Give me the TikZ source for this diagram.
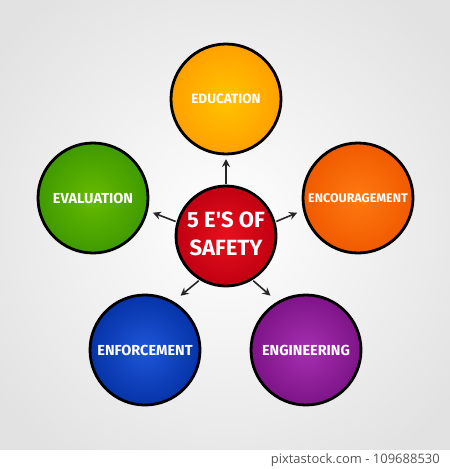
\documentclass[tikz,border=0pt]{standalone}
\usepackage{fontspec}
\setmainfont{Fira Sans}
\newfontfamily\footfont{Open Sans}
\usetikzlibrary{arrows.meta,shadings}
\definecolor{bgedge}{HTML}{E2E2E2}
\definecolor{edu1}{HTML}{FFC400}\definecolor{edu2}{HTML}{FFA000}
\definecolor{enc1}{HTML}{FF7A10}\definecolor{enc2}{HTML}{F05A00}
\definecolor{eva1}{HTML}{66BB00}\definecolor{eva2}{HTML}{3F9A00}
\definecolor{enf1}{HTML}{1E56D8}\definecolor{enf2}{HTML}{0633A8}
\definecolor{eng1}{HTML}{A52FB0}\definecolor{eng2}{HTML}{7E1488}
\definecolor{red1}{HTML}{E8101C}\definecolor{red2}{HTML}{C00012}
\definecolor{foot}{HTML}{555555}
\tikzset{
  bubble/.style={circle, draw=black, line width=2.8pt, minimum size=110pt, inner sep=0pt,
    text=white, font=\bfseries\fontsize{13.5}{15}\selectfont},
  hub/.style={circle, draw=black, line width=2.8pt, minimum size=100pt, inner sep=0pt,
    text=white, align=center, font=\bfseries\fontsize{22}{28}\selectfont},
  link/.style={-{Stealth[length=8pt,width=8pt]}, line width=1.6pt, draw=black!85, shorten <=1pt, shorten >=2pt}
}
\begin{document}
\begin{tikzpicture}[x=1pt,y=-1pt]
\useasboundingbox (0,0) rectangle (450,469);
\shade[inner color=white, outer color=bgedge] (-60,-60) rectangle (510,510);
\fill[white] (0,450) rectangle (450,469);
\node[hub, inner color=red1, outer color=red2] (c) at (226,236) {\raisebox{4pt}{5 E\textquotesingle S OF}\\\raisebox{4pt}{SAFETY}};
\node[bubble, inner color=edu1, outer color=edu2] (edu) at (226,99) {EDUCATION};
\node[bubble, inner color=enc1, outer color=enc2, font=\bfseries\fontsize{12.5}{14}\selectfont] (enc) at (358,198) {ENCOURAGEMENT};
\node[bubble, inner color=eva1, outer color=eva2, font=\bfseries\fontsize{14.5}{16}\selectfont] (eva) at (93,198) {EVALUATION};
\node[bubble, inner color=enf1, outer color=enf2, font=\bfseries\fontsize{14.5}{16}\selectfont] (enf) at (145,350) {ENFORCEMENT};
\node[bubble, inner color=eng1, outer color=eng2, font=\bfseries\fontsize{14.5}{16}\selectfont] (eng) at (306,350) {ENGINEERING};
\coordinate (te) at (226,157);
\coordinate (tr) at (299,212);
\coordinate (tl) at (151,212);
\coordinate (tbl) at (179,297);
\coordinate (tbr) at (272,297);
\draw[link] (c.90) -- (te);
\draw[link] (c.16) -- (tr);
\draw[link] (c.164) -- (tl);
\draw[link] (c.-121) -- (tbl);
\draw[link] (c.-59) -- (tbr);
\node[anchor=east, text=foot, font=\footfont\fontsize{13}{15}\selectfont, inner sep=0pt] (ft) at (440,460) {pixtastock.com - 109688530};
\end{tikzpicture}
\end{document}
